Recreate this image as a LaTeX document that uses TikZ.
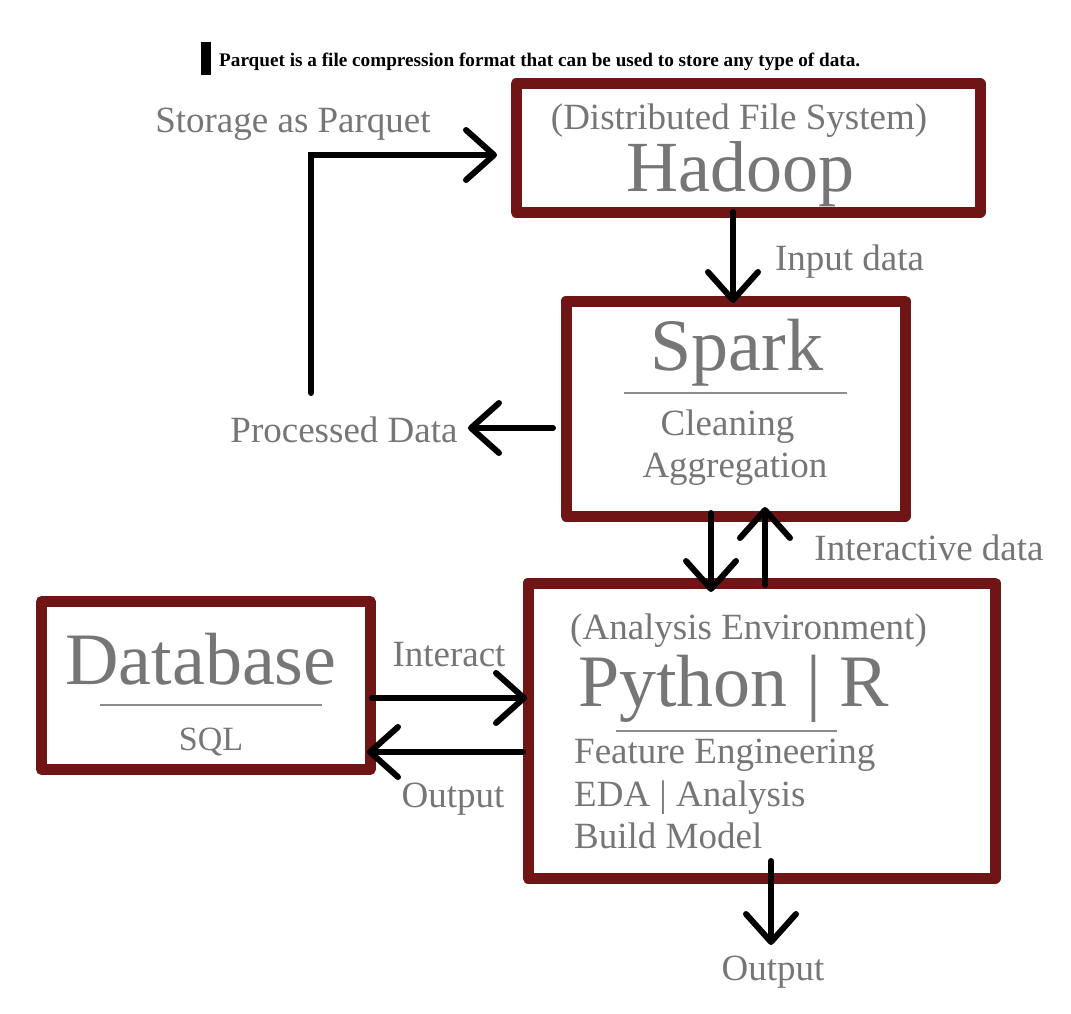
\documentclass[tikz,border=0pt]{standalone}
\usepackage{fontspec}
\setmainfont{Liberation Serif}
\usetikzlibrary{arrows.meta}
\definecolor{maroon}{RGB}{111,21,22}
\definecolor{txtgray}{RGB}{118,118,118}
\definecolor{rulegray}{RGB}{140,140,140}
\tikzset{
  box/.style={draw=maroon, line width=11pt, line join=round, rectangle, inner sep=0pt, fill=white},
  big/.style={text=txtgray, font=\fontsize{74}{74}\selectfont, inner sep=0pt},
  mid/.style={text=txtgray, font=\fontsize{37}{37}\selectfont, inner sep=0pt},
  arr/.style={line width=6pt, line cap=round, line join=miter, -{Straight Barb[length=28pt,width=50pt,round]}},
  sep/.style={draw=rulegray, line width=1.5pt},
}
\begin{document}
\begin{tikzpicture}[x=1pt,y=-1pt]
\useasboundingbox (0,0) rectangle (1071,1014);
% note
\fill[black] (201,42) rectangle (211,75);
\node[anchor=base west, inner sep=0pt, font=\bfseries\fontsize{19.2}{19.2}\selectfont] (note) at (219,67) {Parquet is a file compression format that can be used to store any type of data.};
% boxes
\node[box, minimum width=464pt, minimum height=128pt] (hadoop) at (748,148) {};
\node[box, minimum width=339pt, minimum height=215pt] (spark) at (735.5,408.5) {};
\node[box, minimum width=467pt, minimum height=295pt] (python) at (761.5,730.5) {};
\node[box, minimum width=328.5pt, minimum height=168pt] (database) at (205.75,685.5) {};
% hadoop text
\node[mid, anchor=base] (dfs) at (739,130) {(Distributed File System)};
\node[big, anchor=base, font=\fontsize{72}{72}\selectfont] (hadooptxt) at (740.5,191) {Hadoop};
% spark text
\node[big, anchor=base] (sparktxt) at (737,370) {Spark};
\draw[sep] (624,393) -- (847,393);
\node[mid, anchor=base] (cleaning) at (727.5,435) {Cleaning};
\node[mid, anchor=base] (aggr) at (735,477) {Aggregation};
% python text
\node[mid, anchor=base] (ae) at (748.5,639) {(Analysis Environment)};
\node[big, anchor=base] (pytxt) at (733.5,706) {Python | R};
\draw[sep] (616,731) -- (837,731);
\node[mid, anchor=base west] (fe) at (574,763) {Feature Engineering};
\node[mid, anchor=base west] (eda) at (574,806) {EDA | Analysis};
\node[mid, anchor=base west] (bm) at (574,848) {Build Model};
% database text
\node[big, anchor=base] (dbtxt) at (201,684) {Database};
\draw[sep] (100,705) -- (322,705);
\node[mid, anchor=base, font=\fontsize{34}{34}\selectfont] (sql) at (211,750) {SQL};
% labels
\node[mid, anchor=base] (lstorage) at (293,133) {Storage as Parquet};
\node[mid, anchor=base] (lproc) at (344,442) {Processed Data};
\node[mid, anchor=base] (linput) at (849.5,270) {Input data};
\node[mid, anchor=base] (linter) at (929,560) {Interactive data};
\node[mid, anchor=base] (linteract) at (449,666) {Interact};
\node[mid, anchor=base] (lout1) at (453,807) {Output};
\node[mid, anchor=base] (lout2) at (773,980) {Output};
% connector ends
\coordinate (h-s) at (733,212);
\coordinate (s-n) at (733,303);
\coordinate (s-w) at (553,428);
\coordinate (p-tip) at (468,428);
\coordinate (st-start) at (311,393);
\coordinate (h-w) at (497,155);
\coordinate (s-s1) at (711,513);
\coordinate (py-n1) at (711,592);
\coordinate (py-n2) at (765,585);
\coordinate (s-s2) at (765,507);
\coordinate (db-e1) at (372,698);
\coordinate (py-w1) at (527,698);
\coordinate (py-w2) at (523,752);
\coordinate (db-e2) at (367,752);
\coordinate (py-s) at (771,861);
\coordinate (out-tip) at (771,945);
% connectors
\draw[arr] (h-s) -- (s-n);
\draw[arr] (s-w) -- (p-tip);
\draw[arr] (st-start) |- (h-w);
\draw[arr] (s-s1) -- (py-n1);
\draw[arr] (py-n2) -- (s-s2);
\draw[arr] (db-e1) -- (py-w1);
\draw[arr] (py-w2) -- (db-e2);
\draw[arr] (py-s) -- (out-tip);
\end{tikzpicture}
\end{document}
